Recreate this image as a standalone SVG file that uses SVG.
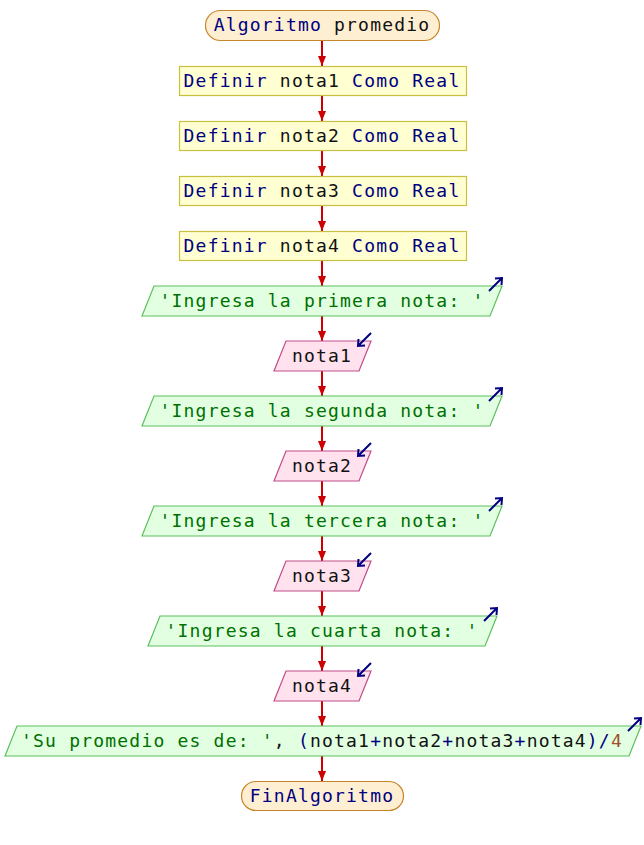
<svg xmlns="http://www.w3.org/2000/svg" width="644" height="845" viewBox="0 0 644 845">
<style>
text{font-family:"DejaVu Sans Mono","Liberation Mono",monospace;font-size:18px;letter-spacing:1.2px}
.term{fill:#ffefd2;stroke:#c8852a;stroke-width:1.2}
.def{fill:#ffffd2;stroke:#c8c040;stroke-width:1.2}
.out{fill:#e2ffe2;stroke:#5cc05c;stroke-width:1.2}
.inp{fill:#ffe2ee;stroke:#c04c88;stroke-width:1.2}
.kw{fill:#000080}
.v{fill:#111}
.s{fill:#007000}
.n{fill:#a0522d}
.flow{stroke:#cc0000;stroke-width:2;fill:none;marker-end:url(#ah)}
.ico{stroke:#000080;stroke-width:2;fill:none;stroke-linecap:butt}
</style>
<defs>
<marker id="ah" viewBox="0 0 10 8" refX="10" refY="4" markerWidth="10" markerHeight="8" markerUnits="userSpaceOnUse" orient="auto"><path d="M0,0 L10,4 L0,8 z" fill="#cc0000"/></marker>
<path id="icoOut" class="ico" d="M-13,13 L0,0 M-7,0.5 L0,0 L-0.5,7"/>
<path id="icoIn" class="ico" d="M0,0 L-13,13 M-12.5,6 L-13,13 L-6,12.5"/>
</defs>
<rect width="644" height="845" fill="#fff"/>
<g id="connectors">
<line class="flow" x1="322" y1="40" x2="322" y2="66"/>
<line class="flow" x1="322" y1="95" x2="322" y2="121"/>
<line class="flow" x1="322" y1="150" x2="322" y2="176"/>
<line class="flow" x1="322" y1="205" x2="322" y2="231"/>
<line class="flow" x1="322" y1="260" x2="322" y2="286"/>
<line class="flow" x1="322" y1="316" x2="322" y2="341"/>
<line class="flow" x1="322" y1="371" x2="322" y2="396"/>
<line class="flow" x1="322" y1="426" x2="322" y2="451"/>
<line class="flow" x1="322" y1="481" x2="322" y2="506"/>
<line class="flow" x1="322" y1="536" x2="322" y2="561"/>
<line class="flow" x1="322" y1="591" x2="322" y2="616"/>
<line class="flow" x1="322" y1="646" x2="322" y2="671"/>
<line class="flow" x1="322" y1="701" x2="322" y2="726"/>
<line class="flow" x1="322" y1="756" x2="322" y2="781"/>
</g>
<g id="start">
<rect class="term" x="205.5" y="10.5" width="234" height="30" rx="15"/>
<text x="322" y="31" text-anchor="middle"><tspan class="kw">Algoritmo</tspan><tspan class="v"> promedio</tspan></text>
</g>
<g id="def1">
<rect class="def" x="179.5" y="66.5" width="287" height="29"/>
<text x="322" y="87" text-anchor="middle"><tspan class="kw">Definir</tspan><tspan class="v"> nota1 </tspan><tspan class="kw">Como Real</tspan></text>
</g>
<g id="def2">
<rect class="def" x="179.5" y="121.5" width="287" height="29"/>
<text x="322" y="142" text-anchor="middle"><tspan class="kw">Definir</tspan><tspan class="v"> nota2 </tspan><tspan class="kw">Como Real</tspan></text>
</g>
<g id="def3">
<rect class="def" x="179.5" y="176.5" width="287" height="29"/>
<text x="322" y="197" text-anchor="middle"><tspan class="kw">Definir</tspan><tspan class="v"> nota3 </tspan><tspan class="kw">Como Real</tspan></text>
</g>
<g id="def4">
<rect class="def" x="179.5" y="231.5" width="287" height="29"/>
<text x="322" y="252" text-anchor="middle"><tspan class="kw">Definir</tspan><tspan class="v"> nota4 </tspan><tspan class="kw">Como Real</tspan></text>
</g>
<g id="out1">
<polygon class="out" points="154,286 502,286 490,316 142,316"/>
<text x="322" y="307" text-anchor="middle" class="s">'Ingresa la primera nota: '</text>
<use href="#icoOut" x="502" y="278"/>
</g>
<g id="in1">
<polygon class="inp" points="286,341 371,341 359,371 274,371"/>
<text x="322" y="362" text-anchor="middle" class="v">nota1</text>
<use href="#icoIn" x="371" y="333"/>
</g>
<g id="out2">
<polygon class="out" points="154,396 502,396 490,426 142,426"/>
<text x="322" y="417" text-anchor="middle" class="s">'Ingresa la segunda nota: '</text>
<use href="#icoOut" x="502" y="388"/>
</g>
<g id="in2">
<polygon class="inp" points="286,451 371,451 359,481 274,481"/>
<text x="322" y="472" text-anchor="middle" class="v">nota2</text>
<use href="#icoIn" x="371" y="443"/>
</g>
<g id="out3">
<polygon class="out" points="154,506 502,506 490,536 142,536"/>
<text x="322" y="527" text-anchor="middle" class="s">'Ingresa la tercera nota: '</text>
<use href="#icoOut" x="502" y="498"/>
</g>
<g id="in3">
<polygon class="inp" points="286,561 371,561 359,591 274,591"/>
<text x="322" y="582" text-anchor="middle" class="v">nota3</text>
<use href="#icoIn" x="371" y="553"/>
</g>
<g id="out4">
<polygon class="out" points="160,616 497,616 485,646 148,646"/>
<text x="322" y="637" text-anchor="middle" class="s">'Ingresa la cuarta nota: '</text>
<use href="#icoOut" x="497" y="608"/>
</g>
<g id="in4">
<polygon class="inp" points="286,671 371,671 359,701 274,701"/>
<text x="322" y="692" text-anchor="middle" class="v">nota4</text>
<use href="#icoIn" x="371" y="663"/>
</g>
<g id="out5">
<polygon class="out" points="17,726 641,726 629,756 5,756"/>
<text x="322" y="747" text-anchor="middle"><tspan class="s">'Su promedio es de: '</tspan><tspan class="v">, </tspan><tspan class="kw">(</tspan><tspan class="v">nota1</tspan><tspan class="kw">+</tspan><tspan class="v">nota2</tspan><tspan class="kw">+</tspan><tspan class="v">nota3</tspan><tspan class="kw">+</tspan><tspan class="v">nota4</tspan><tspan class="kw">)/</tspan><tspan class="n">4</tspan></text>
<use href="#icoOut" x="641" y="718"/>
</g>
<g id="end">
<rect class="term" x="241.5" y="781.5" width="162" height="29" rx="14.5"/>
<text x="322" y="802" text-anchor="middle" class="kw">FinAlgoritmo</text>
</g>
</svg>
